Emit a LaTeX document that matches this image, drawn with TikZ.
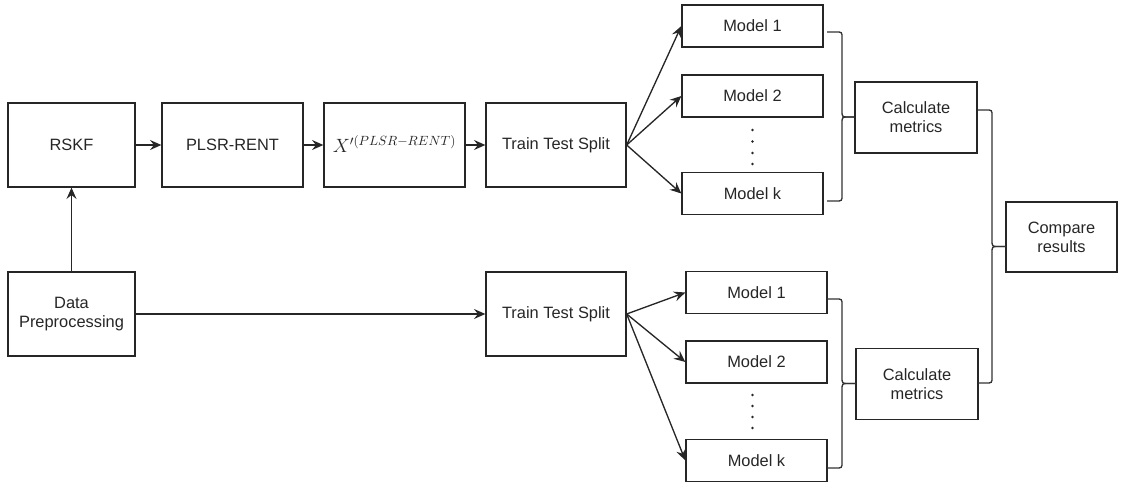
\documentclass[tikz,border=0pt]{standalone}
\usepackage{fontspec}
\setmainfont{Liberation Sans}
\usetikzlibrary{arrows.meta}
\newdimen\pxu
\pxu=0.75pt
% curly bracket: left x, spine x, tip x, top y, bottom y, tip y
\newcommand\curlybrace[6]{%
  \draw[conn] (#1,#4) -- ({#2-6},#4) .. controls (#2,#4) .. (#2,{#4+6})
     -- (#2,{#6-7}) .. controls (#2,#6) .. ({#2+6},#6) -- (#3,#6);
  \draw[conn] (#1,#5) -- ({#2-6},#5) .. controls (#2,#5) .. (#2,{#5-6})
     -- (#2,{#6+7}) .. controls (#2,#6) .. ({#2+6},#6) -- (#3,#6);
}
\begin{document}
\begin{tikzpicture}[x=0.75pt,y=-0.75pt,
  box/.style={draw=black!85,line width=1pt,inner sep=0pt,align=center,
    font=\fontsize{12.3}{14.3}\selectfont,text=black!85},
  bigbox/.style={box,minimum width=#1\pxu,minimum height=84\pxu},
  modelbox/.style={box,minimum width=141\pxu,minimum height=42\pxu},
  calcbox/.style={box,minimum width=122\pxu,minimum height=71\pxu},
  arr/.style={draw=black!85,line width=1pt,-{Stealth[length=8.5pt,width=7.5pt,inset=3pt]}},
  conn/.style={draw=black!80,line width=1pt},
  vdot/.style={fill=black!85,circle,inner sep=0pt,minimum size=2.6\pxu}]
\useasboundingbox (0,0) rectangle (1121,485);

% upper pipeline
\node[bigbox=127] (rskf) at (71.5,145) {RSKF};
\node[bigbox=141] (plsr) at (232.5,145) {PLSR-RENT};
\node[bigbox=141] (xp) at (394.5,145) {};
\node[font=\fontsize{14.6}{16}\selectfont,text=black!85,inner sep=0pt,anchor=base] (xplabel) at (394.5,152) {$X^{\prime(PLSR-RENT)}$};
\node[bigbox=140] (tts1) at (556,145) {Train Test Split};

% lower pipeline
\node[bigbox=127] (dp) at (71.5,314) {Data\\Preprocessing};
\node[bigbox=140] (tts2) at (556,314) {Train Test Split};

% upper models
\node[modelbox] (ma1) at (752.5,26) {Model 1};
\node[modelbox] (ma2) at (752.5,96) {Model 2};
\node[modelbox] (mak) at (752.5,193.5) {Model k};
\foreach \y [count=\i] in {130,141.5,153,164}
  \node[vdot] (da\i) at (752.5,\y) {};

% lower models
\node[modelbox] (mb1) at (756.5,292.5) {Model 1};
\node[modelbox] (mb2) at (756.5,362) {Model 2};
\node[modelbox] (mbk) at (756.5,460.5) {Model k};
\foreach \y [count=\i] in {395,406,417,428}
  \node[vdot] (db\i) at (752.5,\y) {};

% metrics and comparison
\node[calcbox] (calc1) at (916,117.5) {Calculate\\metrics};
\node[calcbox] (calc2) at (917,384) {Calculate\\metrics};
\node[box,minimum width=111\pxu,minimum height=70\pxu] (cmp) at (1061.5,237) {Compare\\results};

% connectors
\draw[arr] (rskf) -- (plsr);
\draw[arr] (plsr) -- (xp);
\draw[arr] (xp) -- (tts1);
\draw[arr] (dp) -- (rskf);
\draw[arr] (dp) -- (tts2);
\draw[arr] (tts1.east) -- (ma1.west);
\draw[arr] (tts1.east) -- (ma2.west);
\draw[arr] (tts1.east) -- (mak.west);
\draw[arr] (tts2.east) -- (mb1.west);
\draw[arr] (tts2.east) -- (mb2.west);
\draw[arr] (tts2.east) -- (mbk.west);

% grouping brackets
\curlybrace{827}{842}{854}{32}{201}{117}
\curlybrace{827}{842}{856}{299}{468}{383.5}
\curlybrace{978}{992}{1006}{110}{383}{246.5}
\end{tikzpicture}
\end{document}
